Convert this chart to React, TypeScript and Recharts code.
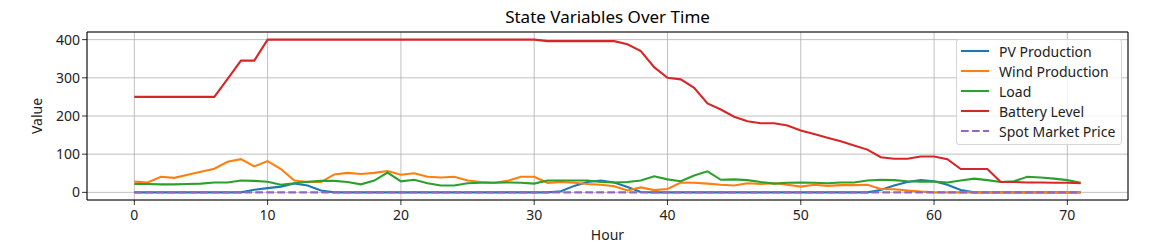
import { LineChart, Line, XAxis, YAxis, CartesianGrid, ReferenceArea } from "recharts";

const hours = [
    0, 1, 2, 3, 4, 5, 6, 7, 8, 9, 10, 11, 12, 13, 14, 15, 16, 17, 18, 19, 20, 21, 22, 23,
    24, 25, 26, 27, 28, 29, 30, 31, 32, 33, 34, 35, 36, 37, 38, 39, 40, 41, 42, 43, 44, 45, 46, 47,
    48, 49, 50, 51, 52, 53, 54, 55, 56, 57, 58, 59, 60, 61, 62, 63, 64, 65, 66, 67, 68, 69, 70, 71,
];

const pvProduction = [
    0, 0, 0, 0, 0, 0, 0, 0, 0, 7, 11, 15, 23, 18, 5, 0, 0, 0, 0, 0, 0, 0, 0, 0,
    0, 0, 0, 0, 0, 0, 0, 0, 3, 17, 27, 31, 26, 14, 1, 0, 0, 0, 0, 0, 0, 0, 0, 0,
    0, 0, 0, 0, 0, 0, 0, 0, 6, 18, 27, 32, 29, 20, 6, 0, 0, 0, 0, 0, 0, 0, 0, 0,
];

const windProduction = [
    28, 26, 41, 38, 46, 54, 62, 80, 87, 68, 82, 61, 31, 27, 27, 47, 51, 48, 51, 56, 46, 50, 41, 39,
    41, 31, 27, 25, 30, 41, 41, 25, 27, 25, 22, 20, 16, 5, 13, 6, 9, 26, 25, 23, 20, 18, 24, 22,
    24, 20, 15, 20, 17, 19, 19, 20, 9, 8, 5, 2, 0, 0, 0, 0, 0, 0, 0, 0, 0, 0, 0, 0,
];

const load = [
    22, 22, 21, 21, 22, 23, 26, 26, 31, 30, 28, 20, 24, 28, 30, 30, 27, 21, 31, 52, 29, 33, 24, 18,
    18, 24, 25, 25, 26, 25, 23, 31, 31, 31, 31, 27, 26, 27, 31, 42, 34, 29, 44, 55, 33, 34, 32, 27,
    23, 25, 26, 25, 24, 26, 26, 31, 33, 32, 29, 28, 28, 26, 31, 36, 32, 27, 29, 41, 39, 36, 32, 25,
];

const batteryLevel = [
    250, 250, 250, 250, 250, 250, 250, 297, 345, 345, 400, 400, 400, 400, 400, 400, 400, 400, 400, 400, 400, 400, 400, 400,
    400, 400, 400, 400, 400, 400, 400, 396, 396, 396, 396, 396, 396, 388, 370, 328, 300, 296, 274, 233, 217, 198, 186, 181,
    181, 175, 162, 153, 143, 134, 123, 112, 92, 88, 88, 94, 94, 87, 61, 61, 61, 27, 27, 26, 26, 25, 25, 24,
];

const spotMarketPrice = [
    0.1, 0.1, 0.1, 0.1, 0.1, 0.1, 0.1, 0.1, 0.1, 0.1, 0.1, 0.1, 0.1, 0.1, 0.1, 0.1, 0.1, 0.1, 0.1, 0.1, 0.1, 0.1, 0.1, 0.1,
    0.1, 0.1, 0.1, 0.1, 0.1, 0.1, 0.1, 0.1, 0.1, 0.1, 0.1, 0.1, 0.1, 0.1, 0.1, 0.1, 0.1, 0.1, 0.1, 0.1, 0.1, 0.1, 0.1, 0.1,
    0.1, 0.1, 0.1, 0.1, 0.1, 0.1, 0.1, 0.1, 0.1, 0.1, 0.1, 0.1, 0.1, 0.1, 0.1, 0.1, 0.1, 0.1, 0.1, 0.1, 0.1, 0.1, 0.1, 0.1,
];

const xTicks = [0, 10, 20, 30, 40, 50, 60, 70];
const yTicks = [0, 100, 200, 300, 400];

const series = [
    { key: "pv", name: "PV Production", color: "#1f77b4", dash: undefined },
    { key: "wind", name: "Wind Production", color: "#ff7f0e", dash: undefined },
    { key: "load", name: "Load", color: "#2ca02c", dash: undefined },
    { key: "battery", name: "Battery Level", color: "#d62728", dash: undefined },
    { key: "spot", name: "Spot Market Price", color: "#9467bd", dash: "7.7 3.3" },
];

const data = hours.map((h, i) => ({
    hour: h,
    pv: pvProduction[i],
    wind: windProduction[i],
    load: load[i],
    battery: batteryLevel[i],
    spot: spotMarketPrice[i],
}));

const FONT = '"Noto Sans", "DejaVu Sans", sans-serif';
const tickStyle = { fontSize: 14, fill: "#222", fontFamily: FONT };

const App = () => {
    return (
        <div style={{ position: "absolute", left: 0, top: 0, width: 1153, height: 249, background: "#fff", fontFamily: FONT }}>
            <div style={{ position: "absolute", top: 6, left: 87, width: 1041, textAlign: "center", fontSize: 17, color: "#000", lineHeight: "22px" }}>
                State Variables Over Time
            </div>

            <LineChart width={1153} height={249} data={data} margin={{ top: 32, right: 25, bottom: 19, left: 0 }}>
                <CartesianGrid stroke="#b0b0b0" strokeWidth={0.8} />
                <XAxis
                    dataKey="hour"
                    type="number"
                    domain={[-3.55, 74.55]}
                    ticks={xTicks}
                    allowDataOverflow
                    height={30}
                    axisLine={false}
                    tickLine={{ stroke: "#000", strokeWidth: 0.8 }}
                    tickSize={5}
                    tickMargin={5}
                    tick={tickStyle}
                    label={{ value: "Hour", position: "insideBottom", offset: -10, style: { fontSize: 14, fill: "#222", fontFamily: FONT } }}
                />
                <YAxis
                    type="number"
                    domain={[-20, 420]}
                    ticks={yTicks}
                    allowDataOverflow
                    width={87}
                    axisLine={false}
                    tickLine={{ stroke: "#000", strokeWidth: 0.8 }}
                    tickSize={5}
                    tickMargin={2}
                    tick={tickStyle}
                    label={{ value: "Value", angle: -90, position: "insideLeft", offset: 37, style: { fontSize: 14, fill: "#222", fontFamily: FONT, textAnchor: "middle" } }}
                />
                {series.map(s => (
                    <Line
                        key={s.key}
                        type="linear"
                        dataKey={s.key}
                        name={s.name}
                        stroke={s.color}
                        strokeWidth={2.1}
                        strokeDasharray={s.dash}
                        dot={false}
                        activeDot={false}
                        isAnimationActive={false}
                    />
                ))}
                <ReferenceArea x1={-3.55} x2={74.55} y1={-20} y2={420} fill="none" stroke="#000" strokeWidth={1} ifOverflow="visible" />
            </LineChart>

            <div style={{
                position: "absolute", top: 39, left: 956, width: 166, boxSizing: "border-box",
                border: "1px solid #d6d6d6", borderRadius: 3, background: "rgba(255,255,255,0.8)",
                padding: "1px 4px 3px 4px", fontSize: 14, color: "#222",
            }}>
                {series.map(s => (
                    <div key={s.key} style={{ display: "flex", alignItems: "center", height: 20 }}>
                        <svg width={28} height={4} style={{ flex: "none" }}>
                            <line x1={0} y1={2} x2={28} y2={2} stroke={s.color} strokeWidth={2.1} strokeDasharray={s.dash} />
                        </svg>
                        <span style={{ marginLeft: 10, whiteSpace: "nowrap" }}>{s.name}</span>
                    </div>
                ))}
            </div>
        </div>
    );
};

export default App;
